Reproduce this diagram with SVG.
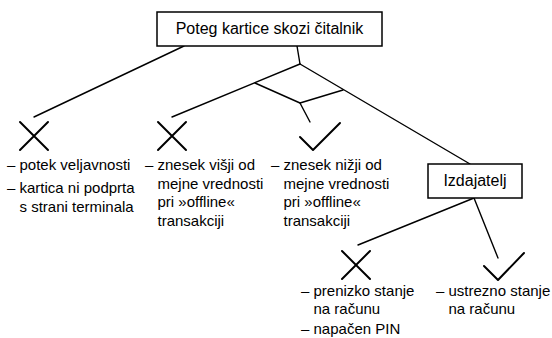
<svg xmlns="http://www.w3.org/2000/svg" width="552" height="338" viewBox="0 0 552 338">
<style>
.bg{fill:#ffffff}
.box{fill:#ffffff;stroke:#000000;stroke-width:1.5}
.ln{fill:none;stroke:#000000;stroke-width:1.4;stroke-linecap:round;stroke-linejoin:round}
.mk{fill:none;stroke:#000000;stroke-width:2;stroke-linecap:round;stroke-linejoin:round}
.t{font-family:"Liberation Sans",Arial,Helvetica,sans-serif;font-size:15px;fill:#000000}
.h{font-family:"Liberation Sans",Arial,Helvetica,sans-serif;font-size:16px;fill:#000000;text-anchor:middle}
</style>
<rect class="bg" x="0" y="0" width="552" height="338"/>
<g id="connectors">
<path class="ln" d="M184,46 L34,117"/>
<path class="ln" d="M297,46 L300,64"/>
<path class="ln" d="M300,64 L172,117"/>
<path class="ln" d="M300,64 L470,164"/>
<path class="ln" d="M255,83 L300,103 L343,90"/>
<path class="ln" d="M300,103 L310,122"/>
<path class="ln" d="M474,198 L358,245"/>
<path class="ln" d="M474,198 L498,258"/>
</g>
<g id="root">
<rect class="box" x="157" y="12" width="225" height="34"/>
<text class="h" x="269.5" y="34">Poteg kartice skozi čitalnik</text>
</g>
<g id="izdajatelj">
<rect class="box" x="428" y="164" width="94" height="34"/>
<text class="h" x="475" y="186">Izdajatelj</text>
</g>
<g id="reject-terminal">
<path class="mk" d="M20,122 L48,150 M48,122 L20,150"/>
<text class="t" x="7" y="170">– potek veljavnosti</text>
<text class="t" x="7" y="193">– kartica ni podprta</text>
<text class="t" x="19.5" y="211.5">s strani terminala</text>
</g>
<g id="reject-offline">
<path class="mk" d="M158,122 L186,150 M186,122 L158,150"/>
<text class="t" x="145" y="170">– znesek višji od</text>
<text class="t" x="157.5" y="188.5">mejne vrednosti</text>
<text class="t" x="157.5" y="207">pri »offline«</text>
<text class="t" x="157.5" y="225.5">transakciji</text>
</g>
<g id="accept-offline">
<path class="mk" d="M300,137 L313,150 L340,123"/>
<text class="t" x="271" y="170">– znesek nižji od</text>
<text class="t" x="283.5" y="188.5">mejne vrednosti</text>
<text class="t" x="283.5" y="207">pri »offline«</text>
<text class="t" x="283.5" y="225.5">transakciji</text>
</g>
<g id="reject-issuer">
<path class="mk" d="M342,251 L370,279 M370,251 L342,279"/>
<text class="t" x="301" y="296">– prenizko stanje</text>
<text class="t" x="313.5" y="314">na računu</text>
<text class="t" x="301" y="334">– napačen PIN</text>
</g>
<g id="accept-issuer">
<path class="mk" d="M484,266 L498,280 L524,253"/>
<text class="t" x="436" y="296">– ustrezno stanje</text>
<text class="t" x="448.5" y="314">na računu</text>
</g>
</svg>
